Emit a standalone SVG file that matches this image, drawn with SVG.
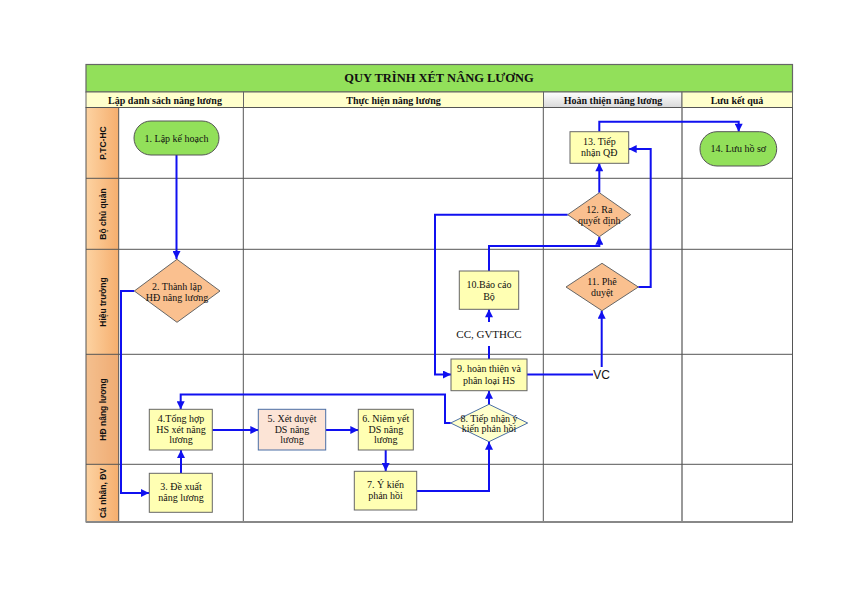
<svg xmlns="http://www.w3.org/2000/svg" width="842" height="595" viewBox="0 0 842 595">
<defs>
<linearGradient id="laneG" x1="0" y1="0" x2="1" y2="0">
<stop offset="0" stop-color="#FDD3A2"/>
<stop offset="1" stop-color="#F5AE6E"/>
</linearGradient>
<linearGradient id="grayG" x1="0" y1="0" x2="0" y2="1">
<stop offset="0" stop-color="#FFFFFF"/>
<stop offset="1" stop-color="#D9D9D9"/>
</linearGradient>
<marker id="arr" markerUnits="userSpaceOnUse" markerWidth="9" markerHeight="8" viewBox="0 0 10 10" refX="10" refY="5" orient="auto">
<path d="M0,0 L10,5 L0,10 z" fill="#1010F0"/>
</marker>
</defs>
<style>
.grid{fill:none;stroke:#555;stroke-width:1}
.hdr{font-family:"Liberation Serif",serif;font-weight:bold;font-size:10px;fill:#111;text-anchor:middle}
.title{font-family:"Liberation Serif",serif;font-weight:bold;font-size:12.5px;fill:#111;text-anchor:middle}
.lane{font-family:"Liberation Sans",sans-serif;font-weight:bold;font-size:8.5px;fill:#111;text-anchor:middle}
.t{font-family:"Liberation Serif",serif;font-size:10px;fill:#111;text-anchor:middle}
.box{fill:#FFFFB3;stroke:#666;stroke-width:1}
.pill{fill:#92E05A;stroke:#555;stroke-width:1}
.dia{fill:#FAC08F;stroke:#666;stroke-width:1}
.conn path{fill:none;stroke:#1010F0;stroke-width:2}
.lbl{font-family:"Liberation Serif",serif;font-size:11px;fill:#111;text-anchor:middle}
.lbls{font-family:"Liberation Sans",sans-serif;font-size:12px;fill:#111;text-anchor:middle}
</style>
<rect width="842" height="595" fill="#FFFFFF"/>

<!-- title and headers -->
<rect x="86" y="64.5" width="706.5" height="27.5" fill="#92E05A" stroke="#666" stroke-width="1.2"/>
<text class="title" x="439" y="82">QUY TRÌNH XÉT NÂNG LƯƠNG</text>
<rect x="86" y="92" width="157.5" height="15.5" fill="#FFFFCC" stroke="#666"/>
<rect x="243.5" y="92" width="300" height="15.5" fill="#FFFFCC" stroke="#666"/>
<rect x="543.5" y="92" width="138.5" height="15.5" fill="url(#grayG)" stroke="#666"/>
<rect x="682" y="92" width="110.5" height="15.5" fill="#FFFFCC" stroke="#666"/>
<text class="hdr" x="165" y="103.5">Lập danh sách nâng lương</text>
<text class="hdr" x="393.5" y="103.5">Thực hiện nâng lương</text>
<text class="hdr" x="613" y="103.5">Hoàn thiện nâng lương</text>
<text class="hdr" x="737" y="103.5">Lưu kết quả</text>

<!-- lanes -->
<rect x="86" y="107.5" width="32.7" height="414.5" fill="url(#laneG)"/>
<rect x="86" y="354.3" width="32.7" height="110" fill="#E9A877" opacity="0.45"/>
<g class="grid">
<rect x="86" y="107.5" width="706.5" height="414.5"/>
<line x1="118.7" y1="107.5" x2="118.7" y2="522"/>
<line x1="243.3" y1="107.5" x2="243.3" y2="522"/>
<line x1="543.3" y1="107.5" x2="543.3" y2="522"/>
<line x1="682" y1="107.5" x2="682" y2="522" stroke="#777" stroke-width="1.5"/>
<line x1="86" y1="178.3" x2="792.5" y2="178.3"/>
<line x1="86" y1="249.3" x2="792.5" y2="249.3"/>
<line x1="86" y1="354.3" x2="792.5" y2="354.3"/>
<line x1="86" y1="464.3" x2="792.5" y2="464.3"/>
<line x1="86" y1="522" x2="792.5" y2="522" stroke="#888" stroke-width="2"/>
</g>
<text class="lane" transform="translate(105.5,143) rotate(-90)">P.TC-HC</text>
<text class="lane" transform="translate(105.5,214) rotate(-90)">Bộ chủ quản</text>
<text class="lane" transform="translate(105.5,302) rotate(-90)">Hiệu trưởng</text>
<text class="lane" transform="translate(105.5,409.5) rotate(-90)">HĐ nâng lương</text>
<text class="lane" transform="translate(105.5,493) rotate(-90)">Cá nhân, ĐV</text>

<!-- connectors -->
<g id="connectors" class="conn">
<path d="M176.5,155 V259" marker-end="url(#arr)"/>
<path d="M134.3,291 H121 V493 H149" marker-end="url(#arr)"/>
<path d="M181,473 V450" marker-end="url(#arr)"/>
<path d="M212.3,430 H258.3" marker-end="url(#arr)"/>
<path d="M325.7,430 H358.3" marker-end="url(#arr)"/>
<path d="M385.7,450 V471" marker-end="url(#arr)"/>
<path d="M416.7,491 H489 V441.7" marker-end="url(#arr)"/>
<path d="M450.7,423 H445 V394.5 H180.7 V409.3" marker-end="url(#arr)"/>
<path d="M489,404.3 V390.7" marker-end="url(#arr)"/>
<path d="M489,359 V346"/>
<path d="M489,322 V309.3" marker-end="url(#arr)"/>
<path d="M489,271 V246 H599.3 V236.7" marker-end="url(#arr)"/>
<path d="M567.7,214.7 H435 V374.5 H451" marker-end="url(#arr)"/>
<path d="M527,374.5 H593"/>
<path d="M601.7,367 V310.7" marker-end="url(#arr)"/>
<path d="M638.3,287 H650.7 V149 H628.7" marker-end="url(#arr)"/>
<path d="M599.3,192.7 V163.3" marker-end="url(#arr)"/>
<path d="M599.3,131.7 V121.7 H738.7 V131.7" marker-end="url(#arr)"/>
<text class="lbl" x="489" y="338">CC, GVTHCC</text>
<text class="lbls" x="601.7" y="378.8">VC</text>
</g>

<!-- nodes -->
<g id="n1"><rect class="pill" x="134" y="121" width="85" height="34" rx="17"/><text class="t" x="176.5" y="141.5">1. Lập kế hoạch</text></g>
<g id="n2"><polygon class="dia" points="177,259.3 220,291 177,322.3 134.3,291"/><text class="t" x="177" y="290">2. Thành lập</text><text class="t" x="177" y="301">HĐ nâng lương</text></g>
<g id="n3"><rect class="box" x="149.3" y="473.3" width="63" height="39"/><text class="t" x="181" y="490">3. Đề xuất</text><text class="t" x="181" y="501">nâng lương</text></g>
<g id="n4"><rect class="box" x="149.3" y="409.3" width="63" height="40.7"/><text class="t" x="181" y="422">4.Tổng hợp</text><text class="t" x="181" y="432.5">HS xét nâng</text><text class="t" x="181" y="443">lương</text></g>
<g id="n5"><rect x="258.3" y="409.3" width="67.4" height="40.7" fill="#FCE4D6" stroke="#4A6FA5"/><text class="t" x="292" y="422">5. Xét duyệt</text><text class="t" x="292" y="432.5">DS nâng</text><text class="t" x="292" y="443">lương</text></g>
<g id="n6"><rect class="box" x="358.3" y="409.3" width="55" height="40.7"/><text class="t" x="385.8" y="422">6. Niêm yết</text><text class="t" x="385.8" y="432.5">DS nâng</text><text class="t" x="385.8" y="443">lương</text></g>
<g id="n7"><rect class="box" x="354.3" y="471.3" width="62.4" height="38.7"/><text class="t" x="385.5" y="488">7. Ý kiến</text><text class="t" x="385.5" y="499">phản hồi</text></g>
<g id="n8"><polygon points="489,404.3 527.7,423 489,441.7 450.7,423" fill="#FFFFCC" stroke="#4A6FA5"/><text class="t" x="489" y="422">8. Tiếp nhận ý</text><text class="t" x="489" y="432">kiến phản hồi</text></g>
<g id="n9"><rect class="box" x="451" y="359" width="76" height="31.7"/><text class="t" x="489" y="372">9. hoàn thiện và</text><text class="t" x="489" y="384">phân loại HS</text></g>
<g id="n10"><rect class="box" x="459.3" y="271" width="59.4" height="38.3"/><text class="t" x="489" y="288">10.Báo cáo</text><text class="t" x="489" y="299.5">Bộ</text></g>
<g id="n11"><polygon class="dia" points="602,263.3 638.3,287 602,310.7 566,287"/><text class="t" x="602" y="285">11. Phê</text><text class="t" x="602" y="296">duyệt</text></g>
<g id="n12"><polygon class="dia" points="599.3,192.7 630.7,214.7 599.3,236.7 567.7,214.7"/><text class="t" x="599.3" y="213">12. Ra</text><text class="t" x="599.3" y="223.5">quyết định</text></g>
<g id="n13"><rect class="box" x="570" y="131.7" width="58.7" height="31.6"/><text class="t" x="599.3" y="145">13. Tiếp</text><text class="t" x="599.3" y="156">nhận QĐ</text></g>
<g id="n14"><rect class="pill" x="700" y="131.7" width="76.7" height="34.3" rx="17"/><text class="t" x="738.3" y="152">14. Lưu hồ sơ</text></g>
</svg>
